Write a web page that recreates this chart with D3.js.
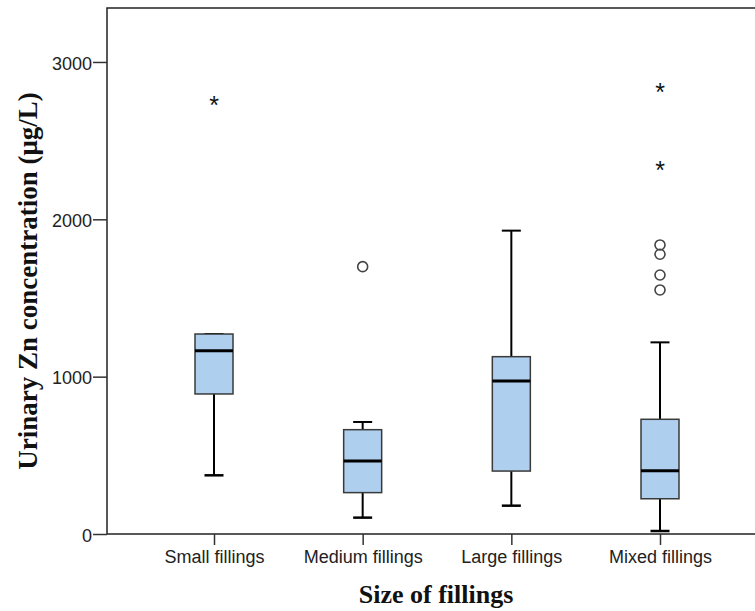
<!doctype html>
<html lang="en">
<head>
<meta charset="UTF-8" />
<title>Urinary Zn concentration by size of fillings</title>
<script src="https://cdn.jsdelivr.net/npm/d3@7"></script>
<style>
  body { margin: 0; background: #fff; }
  svg { display: block; }
</style>
</head>
<body>
<svg id="chart" width="755" height="611"></svg>
<script>
// data (µg/L)
var categories = ["Small fillings", "Medium fillings", "Large fillings", "Mixed fillings"];
var whiskerLow = [373, 104, 180, 19];
var q1 = [890, 263, 400, 224];
var median = [1165, 464, 972, 402];
var q3 = [1271, 663, 1127, 729];
var whiskerHigh = [1271, 712, 1928, 1218];
// circles = outliers, stars = extreme values
var outlierCircles = [[], [1699], [], [1837, 1778, 1646, 1551]];
var outlierStars = [[2748], [], [], [2826, 2335]];
var yTicks = [0, 1000, 2000, 3000];

var svg = d3.select("#chart");
var plotLeft = 107, plotTop = 8, plotBottom = 534, plotRight = 755;

var y = d3.scaleLinear().domain([0, 3343]).range([plotBottom, plotTop]);
var x = d3.scalePoint().domain(categories).range([214, 660]);
var boxW = 38, capW = 19;
var sans = "Arial, 'Liberation Sans', sans-serif";
var serif = "'Times New Roman', 'Liberation Serif', serif";

// frame (open on the right)
svg.append("path")
  .attr("d", "M" + plotRight + "," + plotTop + "H" + plotLeft + "V" + plotBottom + "H" + plotRight)
  .attr("fill", "none").attr("stroke", "#222").attr("stroke-width", 1.5);

// y axis
var yAxis = svg.append("g").attr("transform", "translate(" + plotLeft + ",0)")
  .call(d3.axisLeft(y).tickValues(yTicks).tickFormat(d3.format("d")).tickSize(14).tickPadding(1));
yAxis.select(".domain").remove();
yAxis.selectAll("line").attr("stroke", "#333").attr("stroke-width", 1.5);
yAxis.selectAll("text").attr("font-family", sans)
  .attr("font-size", 18).attr("fill", "#222").attr("dy", "0.4em");

// x axis
var xAxis = svg.append("g").attr("transform", "translate(0," + plotBottom + ")")
  .call(d3.axisBottom(x).tickSize(11).tickPadding(5));
xAxis.select(".domain").remove();
xAxis.selectAll("line").attr("stroke", "#333").attr("stroke-width", 1.5);
xAxis.selectAll("text").attr("font-family", sans)
  .attr("font-size", 18).attr("fill", "#222");

var rows = categories.map(function (c, i) {
  return { cat: c, lo: whiskerLow[i], q1: q1[i], med: median[i], q3: q3[i], hi: whiskerHigh[i],
           circles: outlierCircles[i], stars: outlierStars[i] };
});

var g = svg.selectAll("g.box").data(rows).enter().append("g").attr("class", "box")
  .attr("transform", function (d) { return "translate(" + x(d.cat) + ",0)"; });

// whiskers
g.append("line").attr("x1", 0).attr("x2", 0)
  .attr("y1", function (d) { return y(d.hi); }).attr("y2", function (d) { return y(d.q3); })
  .attr("stroke", "#000").attr("stroke-width", 2);
g.append("line").attr("x1", 0).attr("x2", 0)
  .attr("y1", function (d) { return y(d.q1); }).attr("y2", function (d) { return y(d.lo); })
  .attr("stroke", "#000").attr("stroke-width", 2);
g.append("line").attr("x1", -capW / 2).attr("x2", capW / 2)
  .attr("y1", function (d) { return y(d.hi); }).attr("y2", function (d) { return y(d.hi); })
  .attr("stroke", "#000").attr("stroke-width", 2);
g.append("line").attr("x1", -capW / 2).attr("x2", capW / 2)
  .attr("y1", function (d) { return y(d.lo); }).attr("y2", function (d) { return y(d.lo); })
  .attr("stroke", "#000").attr("stroke-width", 2.5);

// box
g.append("rect").attr("x", -boxW / 2).attr("width", boxW)
  .attr("y", function (d) { return y(d.q3); })
  .attr("height", function (d) { return y(d.q1) - y(d.q3); })
  .attr("fill", "#aecfee").attr("stroke", "#3a3a3a").attr("stroke-width", 1.5);

// median
g.append("line").attr("x1", -boxW / 2).attr("x2", boxW / 2)
  .attr("y1", function (d) { return y(d.med); }).attr("y2", function (d) { return y(d.med); })
  .attr("stroke", "#000").attr("stroke-width", 3);

// outliers
g.selectAll("circle.out").data(function (d) { return d.circles; }).enter().append("circle")
  .attr("class", "out").attr("cx", 0).attr("cy", function (v) { return y(v); }).attr("r", 5)
  .attr("fill", "none").attr("stroke", "#444").attr("stroke-width", 1.6);

g.selectAll("text.star").data(function (d) { return d.stars; }).enter().append("text")
  .attr("class", "star").attr("x", 0).attr("y", function (v) { return y(v) + 12; })
  .attr("text-anchor", "middle").attr("font-family", sans)
  .attr("font-size", 25).attr("fill", "#111").text("*");

// titles
svg.append("text").attr("x", 436).attr("y", 603).attr("text-anchor", "middle")
  .attr("font-family", serif).attr("font-weight", "bold")
  .attr("font-size", 26).attr("fill", "#111").text("Size of fillings");

svg.append("text").attr("transform", "translate(37,281) rotate(-90)").attr("text-anchor", "middle")
  .attr("font-family", serif).attr("font-weight", "bold")
  .attr("font-size", 27).attr("fill", "#111").text("Urinary Zn concentration (\u03bcg/L)");
</script>
</body>
</html>
